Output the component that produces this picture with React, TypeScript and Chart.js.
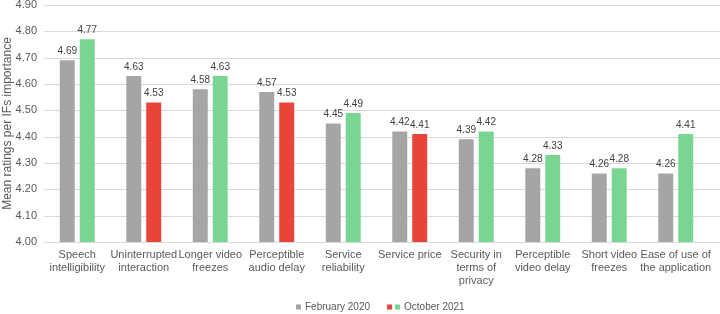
import React, { useEffect, useRef } from "react";
import { Chart, registerables } from "chart.js";

Chart.register(...registerables);

const categories: string[][] = [
  ["Speech", "intelligibility"],
  ["Uninterrupted", "interaction"],
  ["Longer video", "freezes"],
  ["Perceptible", "audio delay"],
  ["Service", "reliability"],
  ["Service price"],
  ["Security in", "terms of", "privacy"],
  ["Perceptible", "video delay"],
  ["Short video", "freezes"],
  ["Ease of use of", "the application"],
];
const feb2020: number[] = [4.69, 4.63, 4.58, 4.57, 4.45, 4.42, 4.39, 4.28, 4.26, 4.26];
const oct2021: number[] = [4.77, 4.53, 4.63, 4.53, 4.49, 4.41, 4.42, 4.33, 4.28, 4.41];
const seriesNames = ["February 2020", "October 2021"];
const yTitle = "Mean ratings per IFs importance";

const GRAY = "#A5A5A5";
const GREEN = "#78D692";
const RED = "#E9443A";
const TEXT = "#595959";
const GRID = "#D9D9D9";
const FONT = "'Liberation Sans', Arial, sans-serif";

const octColors = oct2021.map((v, i) => (v >= feb2020[i] ? GREEN : RED));

const wideGrid = {
  id: "wideGrid",
  beforeDatasetsDraw(chart: any) {
    const ctx = chart.ctx;
    const y = chart.scales.y;
    ctx.save();
    ctx.strokeStyle = GRID;
    ctx.lineWidth = 1;
    y.ticks.forEach((t: any) => {
      const py = Math.round(y.getPixelForValue(t.value)) + 0.5;
      ctx.beginPath();
      ctx.moveTo(chart.chartArea.left, py);
      ctx.lineTo(chart.width, py);
      ctx.stroke();
    });
    ctx.restore();
  },
};

const valueLabels = {
  id: "valueLabels",
  afterDatasetsDraw(chart: any) {
    const ctx = chart.ctx;
    ctx.save();
    ctx.font = `10px ${FONT}`;
    ctx.fillStyle = "#404040";
    ctx.textAlign = "center";
    ctx.textBaseline = "bottom";
    chart.data.datasets.forEach((ds: any, di: number) => {
      const meta = chart.getDatasetMeta(di);
      meta.data.forEach((el: any, i: number) => {
        ctx.fillText(Number(ds.data[i]).toFixed(2), el.x, el.y - 4);
      });
    });
    ctx.restore();
  },
};

const customLegend = {
  id: "customLegend",
  afterDraw(chart: any) {
    const ctx = chart.ctx;
    ctx.save();
    ctx.font = `10px ${FONT}`;
    ctx.textBaseline = "middle";
    const y = 307;
    const sq = 5;
    const w1 = ctx.measureText(seriesNames[0]).width;
    const w2 = ctx.measureText(seriesNames[1]).width;
    const total = sq + 4 + w1 + 17 + sq + 3 + sq + 4 + w2;
    let x = Math.round(380 - total / 2);
    ctx.fillStyle = GRAY;
    ctx.fillRect(x, y - sq / 2, sq, sq);
    x += sq + 4;
    ctx.fillStyle = TEXT;
    ctx.textAlign = "left";
    ctx.fillText(seriesNames[0], x, y);
    x += w1 + 17;
    ctx.fillStyle = RED;
    ctx.fillRect(x, y - sq / 2, sq, sq);
    x += sq + 3;
    ctx.fillStyle = GREEN;
    ctx.fillRect(x, y - sq / 2, sq, sq);
    x += sq + 4;
    ctx.fillStyle = TEXT;
    ctx.fillText(seriesNames[1], x, y);
    ctx.restore();
  },
};

export default function App() {
  const ref = useRef<HTMLCanvasElement>(null);
  useEffect(() => {
    document.body.style.margin = "0";
    const chart = new Chart(ref.current!, {
      type: "bar",
      data: {
        labels: categories,
        datasets: [
          {
            label: seriesNames[0],
            data: feb2020,
            backgroundColor: GRAY,
            categoryPercentage: 0.6,
            barPercentage: 0.75,
          },
          {
            label: seriesNames[1],
            data: oct2021,
            backgroundColor: octColors,
            categoryPercentage: 0.6,
            barPercentage: 0.75,
          },
        ],
      },
      options: {
        animation: false,
        responsive: false,
        maintainAspectRatio: false,
        layout: { padding: { top: 5, right: 11, bottom: 22, left: 0 } },
        plugins: {
          legend: { display: false },
          tooltip: { enabled: false },
        },
        scales: {
          x: {
            grid: { display: false, drawTicks: false },
            border: { display: false },
            ticks: {
              color: TEXT,
              font: { family: FONT, size: 11 },
              padding: 6,
              maxRotation: 0,
              autoSkip: false,
            },
            afterFit(scale: any) {
              scale.height = 50;
              scale.paddingLeft = 0;
              scale.paddingRight = 0;
            },
          },
          y: {
            min: 4.0,
            max: 4.9,
            grid: { display: false, drawTicks: false },
            border: { display: false },
            ticks: {
              stepSize: 0.1,
              color: TEXT,
              font: { family: FONT, size: 11 },
              padding: 7,
              callback: (v: any) => Number(v).toFixed(2),
            },
            title: {
              display: true,
              text: yTitle,
              color: TEXT,
              font: { family: FONT, size: 12 },
              padding: { top: 0, bottom: 0 },
            },
            afterFit(scale: any) {
              scale.width = 44;
              scale.paddingTop = 0;
              scale.paddingBottom = 0;
            },
          },
        },
      },
      plugins: [wideGrid, valueLabels, customLegend],
    });
    return () => chart.destroy();
  }, []);
  return (
    <div style={{ position: "absolute", left: 0, top: 0, width: 720, height: 314 }}>
      <canvas ref={ref} width={720} height={314} style={{ width: 720, height: 314 }} />
    </div>
  );
}
